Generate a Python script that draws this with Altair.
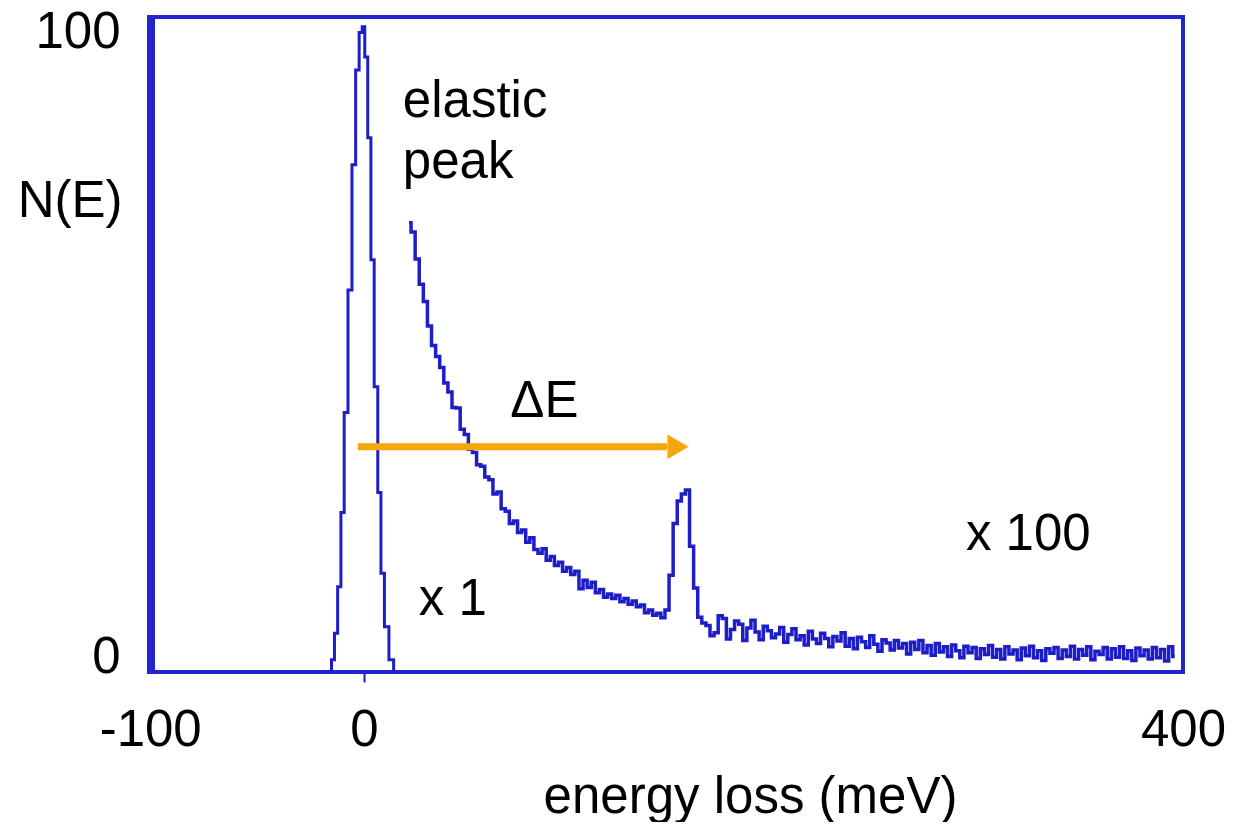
import altair as alt
import pandas as pd

FONT = "Liberation Sans"
BLUE = "#1e1ec8"
FRAME = "#2424cf"
ORANGE = "#F5A70A"

# ---- data ----
# elastic peak (x 1), channel centres in meV and counts
peak_energy = [-16.6, -15.1, -13.7, -12.0, -10.5, -8.8, -6.8, -4.9, -3.2, -1.5,
               -0.2, 1.0, 2.7, 4.1, 5.9, 7.6, 9.0, 11.0, 13.4, 15.6]
peak_counts = [0, 1.9, 6.0, 13.2, 24.7, 40.2, 59.2, 78.6, 93.3, 99.1,
               100, 95.3, 82.8, 63.9, 44.2, 27.8, 15.3, 7.0, 1.9, 0]

# loss spectrum (x 100), 2 meV channels starting at 22 meV
loss_start = 22
loss_step = 2
loss_counts = [
    69.6, 68.2, 64.0, 60.1, 57.4, 53.6, 50.6, 48.9, 47.2, 44.8,
    43.4, 41.0, 40.9, 37.6, 36.8, 34.5, 34.0, 32.1, 31.9, 30.2,
    29.8, 27.6, 27.9, 25.3, 24.9, 23.0, 23.4, 21.6, 22.0, 20.1,
    20.8, 19.0, 18.4, 19.1, 17.3, 17.9, 16.5, 17.0, 15.6, 16.2,
    15.1, 15.6, 12.9, 14.2, 13.1, 13.9, 12.3, 12.8, 11.6, 12.1,
    11.4, 11.9, 10.9, 11.4, 10.5, 11.0, 10.1, 10.4, 9.2, 9.6,
    8.8, 9.1, 8.4, 9.6, 15.0, 23.0, 26.5, 27.6, 28.2, 19.5,
    13.0, 8.5, 7.6, 7.2, 5.6, 6.1, 8.7, 8.3, 5.1, 6.6,
    7.9, 7.4, 4.9, 6.8, 8.0, 6.2, 5.0, 7.1, 6.4, 5.3,
    5.9, 6.9, 4.6, 5.8, 6.7, 5.0, 5.6, 4.2, 6.3, 5.1,
    4.4, 6.0, 5.2, 3.9, 5.5, 4.8, 6.1, 4.0, 5.2, 3.6,
    5.4, 4.7, 3.8, 5.6, 4.3, 3.2, 5.0, 4.5, 3.4, 4.9,
    3.7, 4.4, 2.8, 4.6, 3.5, 4.9, 3.0, 4.1, 2.6, 4.4,
    3.1, 3.9, 2.4, 4.2, 3.3, 2.2, 4.0, 3.0, 3.8, 2.1,
    3.6, 2.7, 4.1, 2.3, 3.5, 2.0, 3.9, 2.8, 3.4, 1.9,
    3.7, 2.5, 4.0, 2.2, 3.3, 1.8, 3.6, 2.9, 3.8, 2.1,
    3.4, 2.4, 4.0, 2.0, 3.5, 2.6, 3.9, 1.9, 3.2, 2.7,
    3.8, 2.0, 3.6, 2.3, 3.9, 2.1, 3.3, 1.8, 3.7, 2.5,
    3.4, 2.0, 3.8, 2.2, 3.5, 1.7, 3.9, 2.4,
]
loss_energy = [loss_start + loss_step * i for i in range(len(loss_counts))]

x_ticks = [-100, 0, 400]
y_ticks = [0, 100]
x_domain = [-104, 400]
y_domain = [0, 101.5]

# Delta E arrow (meV, counts)
arrow_from = [-3.0]
arrow_to = [148.0]
arrow_head = [153.4]
arrow_level = [34.9]

# annotations
ann_text = ["elastic", "peak", "\u0394E", "x 1", "x 100"]
ann_energy = [19.0, 19.0, 71.5, 26.8, 294.0]
ann_counts = [86.0, 76.6, 39.5, 8.8, 18.9]

# ---- tables ----
peak_df = pd.DataFrame({"E": peak_energy, "N": peak_counts})
loss_df = pd.DataFrame({"E": loss_energy, "N": loss_counts})
arrow_df = pd.DataFrame({"E": arrow_from, "E2": arrow_to, "N": arrow_level})
head_df = pd.DataFrame({"E": arrow_head, "N": arrow_level})
ann_df = pd.DataFrame({"E": ann_energy, "N": ann_counts, "label": ann_text})

x_axis = alt.Axis(
    values=x_ticks, title="energy loss (meV)", grid=False, domain=False,
    labelExpr="toString(datum.value)",
    labelFont=FONT, labelFontSize=51, labelColor="black", labelPadding=63,
    labelBaseline="alphabetic", labelAlign="center", labelFlush=False, labelOverlap=False,
    labelOffset={"condition": {"test": "datum.value === -100", "value": -9}, "value": 0},
    tickSize=10, tickWidth=2, tickColor=BLUE,
    tickOpacity={"condition": {"test": "datum.value === 0", "value": 1}, "value": 0},
    titleFont=FONT, titleFontSize=51, titleFontWeight="normal", titleColor="black",
    titleX=599, titleY=140, titleAlign="center", titleBaseline="alphabetic",
)
y_axis = alt.Axis(
    values=y_ticks, title="N(E)", grid=False, domain=False, ticks=False,
    labelFont=FONT, labelFontSize=51, labelColor="black", labelPadding=31,
    labelAlign="right", labelFlush=False, labelOverlap=False,
    labelBaseline="alphabetic",
    labelOffset={"condition": {"test": "datum.value === 100", "value": 21}, "value": 0},
    titleFont=FONT, titleFontSize=51, titleFontWeight="normal", titleColor="black",
    titleAngle=0, titleX=-29, titleY=199, titleAlign="right", titleBaseline="alphabetic",
)

X = alt.X("E:Q", scale=alt.Scale(domain=x_domain, nice=False, zero=False), axis=x_axis)
Y = alt.Y("N:Q", scale=alt.Scale(domain=y_domain, nice=False, zero=False), axis=y_axis)

left_border = alt.Chart(pd.DataFrame({"a": [0]})).mark_rule(color=FRAME, strokeWidth=8).encode(
    x=alt.value(0), y=alt.value(-2), y2=alt.value(657)
)

peak_line = alt.Chart(peak_df).mark_line(interpolate="step", color=BLUE, strokeWidth=3).encode(x=X, y=Y)
loss_line = alt.Chart(loss_df).mark_line(interpolate="step", color=BLUE, strokeWidth=3.5).encode(x=X, y=Y)

arrow = alt.Chart(arrow_df).mark_rule(color=ORANGE, strokeWidth=7).encode(x=X, x2="E2:Q", y=Y)
head = alt.Chart(head_df).mark_point(
    shape="triangle-right", filled=True, size=600, color=ORANGE, opacity=1, strokeWidth=0
).encode(x=X, y=Y)

labels = alt.Chart(ann_df).mark_text(
    font=FONT, fontSize=51, color="black", align="left", baseline="alphabetic"
).encode(x=X, y=Y, text="label:N")

chart = alt.layer(left_border, peak_line, loss_line, arrow, head, labels).properties(
    width=1032, height=655,
    autosize=alt.AutoSizeParams(type="none"),
    padding={"left": 143, "top": 9, "right": 44, "bottom": 150},
    background="white",
).configure_view(stroke=FRAME, strokeWidth=4)

chart.save("out.html", embed_options={"renderer": "svg", "actions": False})
